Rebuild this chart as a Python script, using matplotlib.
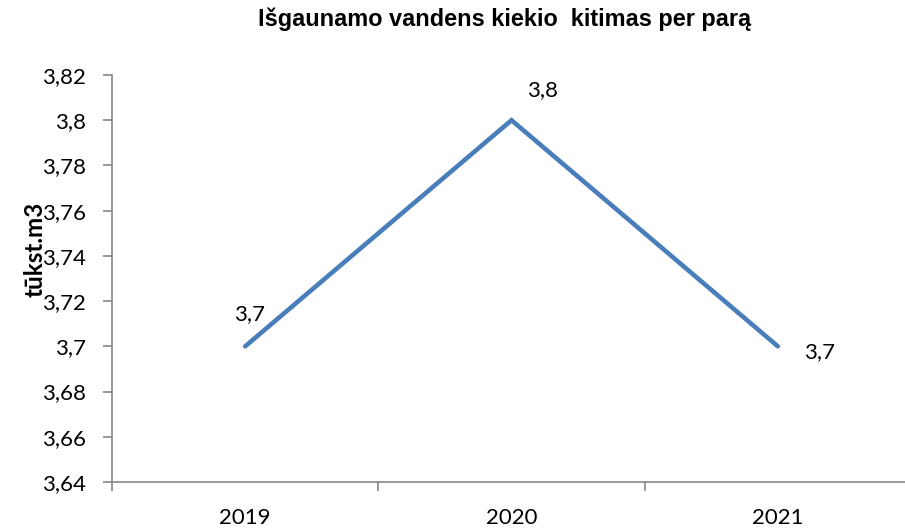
import matplotlib
matplotlib.use("Agg")
import matplotlib.pyplot as plt

# data
years = ["2019", "2020", "2021"]
values = [3.7, 3.8, 3.7]
value_labels = ["3,7", "3,8", "3,7"]
y_ticks = [3.64, 3.66, 3.68, 3.70, 3.72, 3.74, 3.76, 3.78, 3.80, 3.82]
y_tick_labels = ["3,64", "3,66", "3,68", "3,7", "3,72", "3,74", "3,76", "3,78", "3,8", "3,82"]

W, H = 905, 531
fig = plt.figure(figsize=(W / 100, H / 100), dpi=100)
ax = fig.add_axes([112 / W, 49 / H, (911 - 112) / W, (482 - 75) / H])

xs = list(range(len(years)))
ax.plot(xs, values, color="#4A7EBB", lw=3.3, solid_joinstyle="miter", solid_capstyle="round")

ax.set_xlim(-0.5, len(years) - 0.5)
ax.set_ylim(3.64, 3.82)

grey = "#868686"
for s in ["top", "right"]:
    ax.spines[s].set_visible(False)
for s in ["left", "bottom"]:
    ax.spines[s].set_color(grey)
    ax.spines[s].set_linewidth(1.2)

tick_font = dict(family="Lato", size=16)
ax.set_yticks(y_ticks)
ax.set_yticklabels(y_tick_labels, **tick_font)
ax.tick_params(axis="y", length=6.5, width=1.2, color=grey, pad=12)

# category labels centred, tick marks at the boundaries
ax.set_xticks(xs)
ax.set_xticklabels(years, **tick_font)
ax.tick_params(axis="x", which="major", length=0, pad=19)
ax.set_xticks([x - 0.5 for x in xs] + [len(xs) - 0.5], minor=True)
ax.tick_params(axis="x", which="minor", length=6.5, width=1.2, color=grey)

offsets = [(3, 23), (22, 22), (30, -4)]
for x, v, lab, off in zip(xs, values, value_labels, offsets):
    ax.annotate(lab, (x, v), xytext=off, textcoords="offset points",
                ha="center", va="center", family="Lato", size=16)

fig.text(505 / W, 1 - 19 / H, "Išgaunamo vandens kiekio  kitimas per parą",
         ha="center", va="center", family="Liberation Sans", weight="bold", size=16.9)
fig.text(35 / W, 1 - 249 / H, "tūkst.m3", rotation=90, ha="center", va="center",
         family="Lato", weight="bold", size=17.5)

fig.savefig("out.png", dpi=100)
